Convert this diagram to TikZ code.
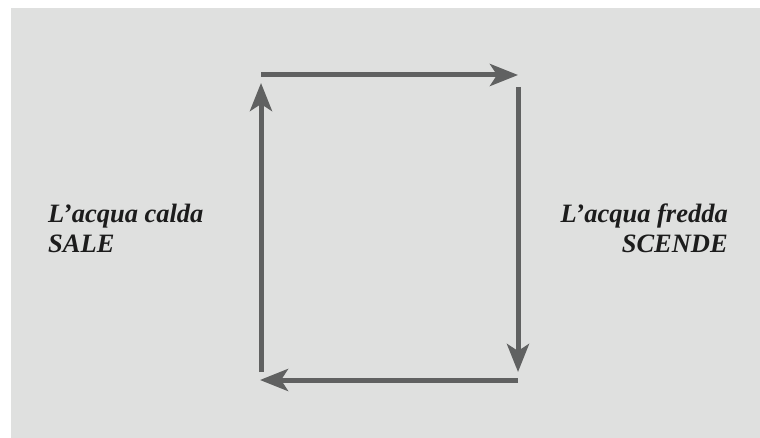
\documentclass[tikz,border=0pt]{standalone}
\usepackage{fontspec}
\setmainfont{Liberation Serif}
\usetikzlibrary{arrows.meta}
\definecolor{bggray}{HTML}{DFE0DF}
\definecolor{arrgray}{HTML}{606161}
\definecolor{txt}{HTML}{1C1C1C}
\begin{document}
\begin{tikzpicture}[x=1pt,y=-1pt,
  flow/.style={draw=arrgray,line width=5pt,-{Stealth[length=28pt,width=22pt,inset=7pt]}},
  lbl/.style={inner sep=0pt,text=txt,font=\fontsize{26.5}{30}\selectfont\bfseries\itshape}]
\useasboundingbox (0,0) rectangle (760,438);
\fill[white] (0,0) rectangle (760,438);
\fill[bggray] (11,8) rectangle (760,438);
\coordinate (tl) at (261,75);
\coordinate (tr) at (518,75);
\coordinate (rt) at (518,87);
\coordinate (rb) at (518,372);
\coordinate (br) at (518,380);
\coordinate (bl) at (260,380);
\coordinate (lb) at (261,372);
\coordinate (lt) at (261,83);
\draw[flow] (tl) -- (tr);
\draw[flow] (rt) -- (rb);
\draw[flow] (br) -- (bl);
\draw[flow] (lb) -- (lt);
\node[lbl,align=left,anchor=base west] (hot) at (48,253) {L’acqua calda\\SALE};
\node[lbl,align=right,anchor=base east] (cold) at (728,253) {L’acqua fredda\\SCENDE};
\end{tikzpicture}
\end{document}
